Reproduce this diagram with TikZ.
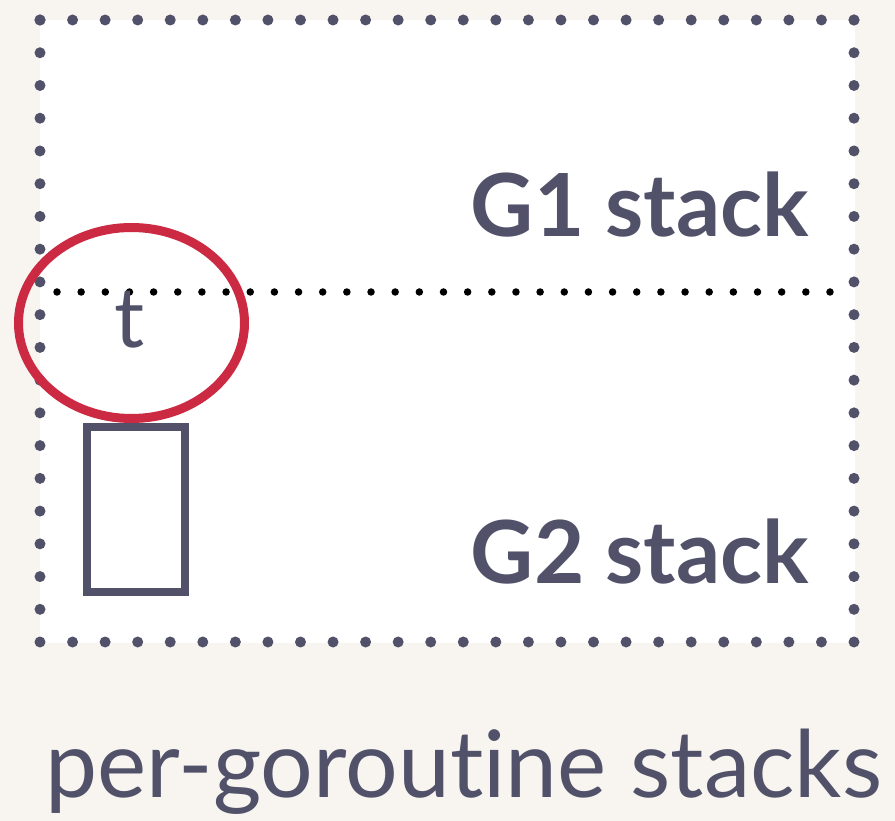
\documentclass[tikz,border=0pt]{standalone}
\usepackage{fontspec}
\setmainfont{Lato}[Ligatures=NoCommon]
\usetikzlibrary{calc,shapes.geometric}
\definecolor{bgc}{HTML}{F8F5F0}
\definecolor{ink}{HTML}{51526A}
\definecolor{redc}{HTML}{CC2A42}
\tikzset{
  bigdots/.style={draw=ink, line width=11pt, line cap=round},
  middots/.style={draw=black, line width=7.5pt, line cap=round, dash pattern=on 0pt off 24.156pt},
  lbl/.style={text=ink, font=\fontsize{87}{90}\selectfont\bfseries, inner sep=0pt, anchor=base east},
}
\begin{document}
\begin{tikzpicture}[x=1pt,y=-1pt]
\fill[bgc] (0,0) rectangle (895,821);
\useasboundingbox (0,0) rectangle (895,821);
\node (box) [fill=white, minimum width=815pt, minimum height=623pt, inner sep=0pt, anchor=north west] at (40,20) {};
\coordinate (tl) at (40,20);
\coordinate (tr) at (854,20);
\coordinate (bl) at (40,642);
\coordinate (br) at (854,642);
\draw[bigdots, dash pattern=on 0pt off 32.56pt] (tl) -- (tr);
\draw[bigdots, dash pattern=on 0pt off 32.56pt] (bl) -- (br);
\draw[bigdots, dash pattern=on 0pt off 32.74pt] (tl) -- (bl);
\draw[bigdots, dash pattern=on 0pt off 32.74pt] (tr) -- (br);
\coordinate (ml) at (57,292);
\coordinate (mr) at (830.5,292);
\draw[middots] (ml) -- (mr);
\node (g1) [lbl] at (809,237) {G1 stack};
\node (g2) [lbl] at (809,583) {G2 stack};
\node (t) [text=ink, font=\fontsize{84}{86}\selectfont, inner sep=0pt, anchor=base] at (130,348) {t};
\node (circ) [draw=redc, line width=9pt, ellipse, minimum width=226pt, minimum height=191pt, inner sep=0pt] at (131.5,323) {};
\node (frame) [draw=ink, line width=8pt, minimum width=98pt, minimum height=165pt, inner sep=0pt, anchor=north west] at (83,423) {};
\node (cap) [text=ink, font=\fontsize{93}{96}\selectfont, inner sep=0pt, anchor=base west] at (45,797) {per-goroutine stacks};
\end{tikzpicture}
\end{document}
